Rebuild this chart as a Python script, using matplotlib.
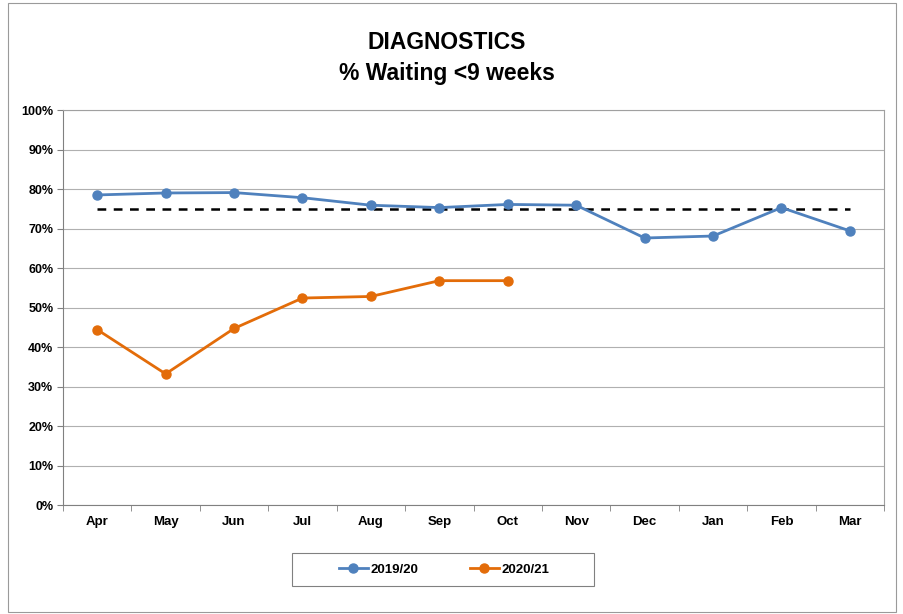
import numpy as np
import matplotlib
matplotlib.use('Agg')
import matplotlib.pyplot as plt
from matplotlib.patches import Rectangle

plt.rcParams['font.family'] = ['Liberation Sans', 'DejaVu Sans']

months = ['Apr', 'May', 'Jun', 'Jul', 'Aug', 'Sep', 'Oct', 'Nov', 'Dec', 'Jan', 'Feb', 'Mar']
y1920 = [78.5, 79.0, 79.1, 77.8, 75.9, 75.3, 76.1, 75.9, 67.6, 68.1, 75.3, 69.4]
y2021 = [44.4, 33.2, 44.7, 52.4, 52.8, 56.8, 56.8]
target = 75.0

blue = '#4F81BD'
orange = '#E36C09'

fig = plt.figure(figsize=(9.04, 6.14), dpi=100)
# outer chart border
fig.patches.append(Rectangle((0.009, 0.003), 0.982, 0.992, transform=fig.transFigure,
                             fill=False, edgecolor='#9a9a9a', linewidth=0.8))
# legend box (wider than its contents, like the excel one)
fig.patches.append(Rectangle((0.323, 0.0456), 0.334, 0.0537, transform=fig.transFigure,
                             fill=False, edgecolor='#808080', linewidth=0.8))

ax = fig.add_axes([0.0697, 0.1775, 0.9083, 0.6433])
x = np.arange(len(months))

ax.plot(x, [target] * len(months), color='black', linestyle=(0, (3.5, 3)), linewidth=1.8, zorder=3)
ax.plot(x, y1920, color=blue, linewidth=2, marker='o', markersize=6.5, label='2019/20', zorder=4)
ax.plot(x[:len(y2021)], y2021, color=orange, linewidth=2, marker='o', markersize=6.5, label='2020/21', zorder=4)

ax.set_xlim(-0.5, 11.5)
ax.set_ylim(0, 100)
ax.set_yticks(np.arange(0, 101, 10))
ax.set_yticklabels(['%d%%' % v for v in range(0, 101, 10)], fontsize=9, fontweight='bold')
ax.set_xticks(x)
ax.set_xticklabels(months, fontsize=9.5, fontweight='bold')
ax.set_xticks(np.arange(-0.5, 12, 1), minor=True)
ax.tick_params(axis='x', which='major', length=0, pad=8)
ax.tick_params(axis='x', which='minor', length=4, direction='out', color='#808080')
ax.tick_params(axis='y', length=4, direction='out', color='#808080', pad=3)
ax.grid(axis='y', color='#b0b0b0', linewidth=0.8)
ax.set_axisbelow(True)
for s in ax.spines.values():
    s.set_color('#a0a0a0')
    s.set_linewidth(0.8)
ax.spines['left'].set_color('#808080')
ax.spines['bottom'].set_color('#808080')

fig.text(0.494, 0.93, 'DIAGNOSTICS', ha='center', va='center', fontsize=16.5, fontweight='bold')
fig.text(0.494, 0.88, '% Waiting <9 weeks', ha='center', va='center', fontsize=16.5, fontweight='bold')

leg = fig.legend(loc='center', bbox_to_anchor=(0.491, 0.0725), ncol=2, frameon=False,
                 prop={'weight': 'bold', 'size': 9.5}, handlelength=2.2, columnspacing=3.9,
                 handletextpad=0.2)

fig.savefig('out.png', dpi=100)
